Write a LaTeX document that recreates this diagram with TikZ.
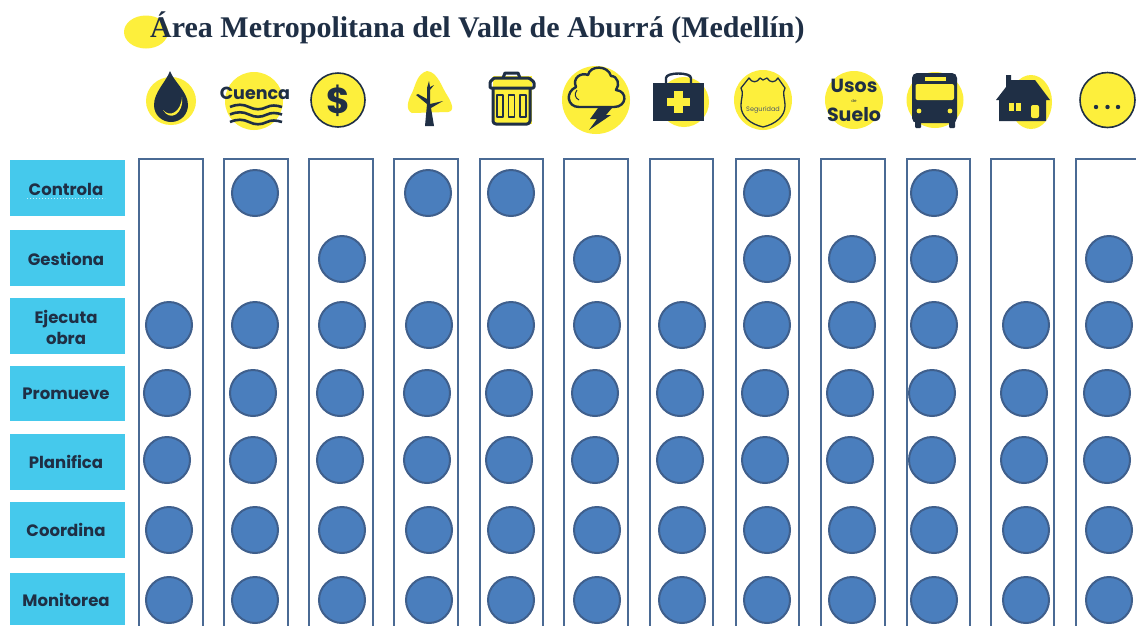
\documentclass[tikz,border=0pt]{standalone}
\usepackage{fontspec}
\setmainfont{Poppins}
\newfontfamily\titlefont{Liberation Serif}
\definecolor{ink}{HTML}{1F2F45}
\definecolor{sun}{HTML}{FDEF3C}
\definecolor{sky}{HTML}{45C9EC}
\definecolor{dotfill}{HTML}{4A7EBD}
\definecolor{dotline}{HTML}{3F5F8C}
\definecolor{colline}{HTML}{4A6A94}
\tikzset{
  x=1pt,y=-1pt,
  rowlabel/.style={text=ink,font=\fontsize{16.5}{18}\selectfont\bfseries,align=center,inner sep=0pt,anchor=center},
  colbox/.style={draw=colline,line width=2.8pt,fill=white},
  mark dot/.style={circle,fill=dotfill,draw=dotline,line width=2pt,minimum size=46pt,inner sep=0pt},
  halo/.style={fill=sun,draw=none},
  dark/.style={fill=ink,draw=none},
  outline/.style={draw=ink,line width=2.2pt,line join=round},
  wave/.style={draw=ink,line width=2.6pt},
  icontext/.style={text=ink,font=\bfseries,inner sep=0pt}
}
\begin{document}
\begin{tikzpicture}
\useasboundingbox (0,0) rectangle (1136,625);
\clip (0,0) rectangle (1136,625);
\fill[white] (0,0) rectangle (1136,625);
% title
\fill[halo] (146,32) ellipse [x radius=22,y radius=16.5];
\node[anchor=base west,inner sep=0pt,text=ink,font=\titlefont\fontsize{30}{32}\selectfont\bfseries] (title) at (150,37) {Área Metropolitana del Valle de Aburrá (Medellín)};
% columns
\foreach \l/\r [count=\i] in {139/203,224/288,309/373,394/458,480/543,564/628,650/713,736/799,821/885,907/970,991/1054,1076/1142}
  \draw[colbox] (\l,159) rectangle (\r,640);
% row labels
\foreach \name/\txt/\yt/\yb/\yc in {controla/Controla/160/216/189,gestiona/Gestiona/230/286/259,ejecuta/{Ejecuta\\[3pt]obra}/298/354/327,promueve/Promueve/366/421/394,planifica/Planifica/434/490/462,coordina/Coordina/502/558/530,monitorea/Monitorea/573/625/600}{
  \fill[sky] (10,\yt) rectangle (125,\yb);
  \node[rowlabel] (\name) at (66,\yc) {\txt};
}
\draw[white!70!sky,line width=1pt,dotted] (27,198) -- (105,198);
% dots
\foreach \x/\y [count=\i] in {255/193,428/193,511/193,767/193,934/193,
  342/259,597/259,767/259,852/259,934/259,1109/259}
  \node[mark dot] (a\i) at (\x,\y) {};
\foreach \y/\s in {325/0,393/-2,460/-2,530/0,600/0}
  \foreach \x [count=\j] in {169,255,342,429,511,597,682,767,852,934,1026,1109}
    \node[mark dot] (b\y-\j) at ({\x+\s},\y) {};
% drop
\fill[halo] (171,101) ellipse [x radius=25,y radius=24];
\fill[dark] (170,71) .. controls (166,82) and (154,92) .. (154,105) .. controls (154,115) and (162,122) .. (171,122) .. controls (181,122) and (188,114) .. (188,105) .. controls (188,92) and (174,82) .. (170,71) -- cycle;
\fill[halo] (163,110) .. controls (170,118) and (181,112) .. (182,97) .. controls (184,114) and (170,122) .. (163,110) -- cycle;
% cuenca
\fill[halo] (254,101) ellipse [x radius=29,y radius=29];
\node[icontext,font=\fontsize{17.5}{20}\selectfont\bfseries] (cuenca) at (255,93) {Cuenca};
\foreach \yy in {107,114.5,122}
  \draw[wave] (230,\yy) .. controls (237,\yy-3) and (243,\yy-3) .. (249,\yy) .. controls (255,\yy+3) and (261,\yy+3) .. (267,\yy) .. controls (271,\yy-2) and (276,\yy-2) .. (282,\yy);
% dollar
\draw[halo,draw=ink,line width=1.6pt] (338,100) circle [radius=27];
\node[icontext,font=\fontsize{36}{38}\selectfont\bfseries] (dollar) at (338,101) {\$};
% tree
\fill[halo] (427,71) .. controls (438,72) and (442,88) .. (447,95) .. controls (452,103) and (455,111) .. (448,112) -- (412,113) .. controls (405,110) and (408,100) .. (412,93) .. controls (416,84) and (417,74) .. (427,71) -- cycle;
\fill[dark] (425,126) -- (434,126) -- (431,108) -- (443,101) -- (430,104) -- (430,90) -- (434,85) -- (430,87) -- (429,81) -- (427,88) -- (427,99) -- (418,94) -- (416,95) -- (427,104) -- cycle;
% trash
\fill[sun] (493,76) rectangle (532,124);
\draw[outline,line width=3pt,rounded corners=1pt] (490,82) -- (490,88) -- (534,88) -- (534,82) -- (529,78) -- (494,78) -- cycle;
\draw[outline,line width=3pt] (503,78) -- (505,73) -- (518,73) -- (520,78);
\draw[outline,line width=3pt,rounded corners=3pt] (493,88) -- (493,124) -- (530,124) -- (530,88);
\foreach \xx in {500,511.5,523}
  \draw[outline,line width=1.8pt] (\xx-3,95) rectangle (\xx+3,117);
% storm
\fill[halo] (596,100) ellipse [x radius=34,y radius=34];
\draw[outline,line width=2.4pt] (579,107) .. controls (567,107) and (565,92) .. (576,87) .. controls (572,78) and (581,72) .. (588,75) .. controls (590,65) and (608,65) .. (611,76) .. controls (618,76) and (620,85) .. (616,90) .. controls (628,91) and (627,107) .. (614,107) -- cycle;
\draw[draw=ink,line width=1pt] (577,90) .. controls (574,94) and (575,98) .. (579,100);
\fill[dark] (598,108) -- (612,108) -- (606,115) -- (611,115) -- (589,130) -- (597,119) -- (590,119) -- cycle;
% kit
\fill[halo] (684,102) ellipse [x radius=25,y radius=25];
\draw[outline,line width=2.4pt] (666,84) -- (666,78) .. controls (666,72) and (691,72) .. (691,78) -- (691,84);
\fill[dark] (653,83) rectangle (704,121);
\fill[sun] (674,91) rectangle (683,113);
\fill[sun] (667,97.5) rectangle (690,106);
% shield
\fill[halo] (763,100) ellipse [x radius=29,y radius=30];
\draw[outline,line width=1.3pt] (763,127) .. controls (750,124) and (741,116) .. (741,106) .. controls (741,98) and (744,93) .. (741,88) -- (749,78) .. controls (752,83) and (757,83) .. (760,78) -- (763,80) -- (767,78) .. controls (770,83) and (775,83) .. (778,78) -- (785,88) .. controls (782,93) and (785,98) .. (785,106) .. controls (785,116) and (776,124) .. (763,127) -- cycle;
\node[text=ink!80,font=\fontsize{6.5}{8}\selectfont,inner sep=0pt] (seguridad) at (763,110) {Seguridad};
% usos
\fill[halo] (854,100) ellipse [x radius=29,y radius=29];
\node[icontext,font=\fontsize{19}{24}\selectfont\bfseries] (usos) at (854,86) {Usos};
\node[icontext,font=\fontsize{4}{5}\selectfont] (de) at (854,101) {de};
\node[icontext,font=\fontsize{19}{24}\selectfont\bfseries] (suelo) at (854,115) {Suelo};
% bus
\fill[halo] (935,100) ellipse [x radius=28.5,y radius=28];
\fill[dark,rounded corners=5pt] (912,123) -- (912,73) -- (957,73) -- (957,123) -- cycle;
\fill[dark,rounded corners=1pt] (915,120) rectangle (921,128);
\fill[dark,rounded corners=1pt] (949,120) rectangle (955,128);
\fill[sun,rounded corners=2pt] (915.5,84) rectangle (954,100);
\fill[sun] (925,77) rectangle (946,80.5);
\fill[sun] (919,111) circle [radius=2.4];
\fill[sun] (950,111) circle [radius=2.4];
% house
\fill[halo] (1031,102) ellipse [x radius=21,y radius=27];
\fill[dark] (1006,75) -- (1011,75) -- (1011,80) -- (1035,80) -- (1050,100) -- (1046,100) -- (1046,121) -- (999,121) -- (999,100) -- (996,100) -- (1006,87) -- cycle;
\fill[sun] (1009,103) rectangle (1014,111);
\fill[sun] (1016,103) rectangle (1021,111);
\fill[sun,rounded corners=2pt] (1031,105) rectangle (1039,118);
% more
\draw[halo,draw=ink,line width=1.6pt] (1107.5,100) ellipse [x radius=27.5,y radius=27.5];
\foreach \xx in {1096,1107.5,1118}
  \fill[dark] (\xx,107) circle [radius=2.2];
\end{tikzpicture}
\end{document}
